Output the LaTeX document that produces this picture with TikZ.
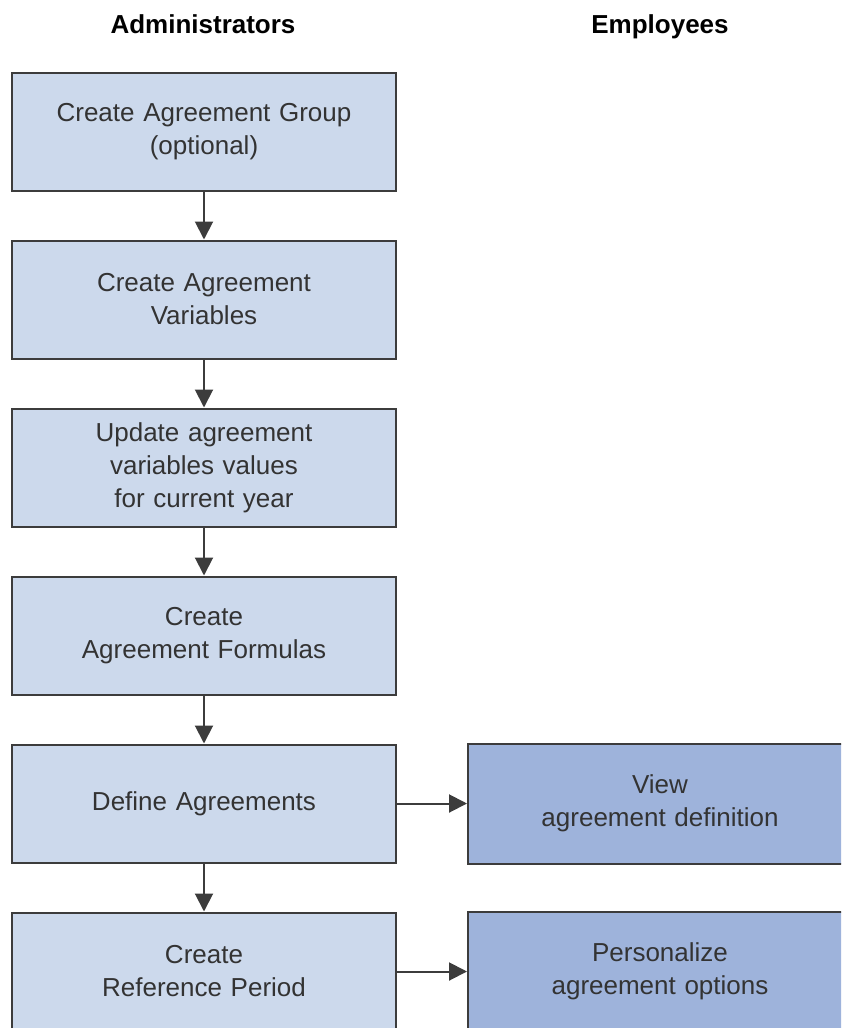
\documentclass[tikz,border=0pt]{standalone}
\usepackage{fontspec}
\setmainfont{Liberation Sans}
\usetikzlibrary{positioning,arrows.meta}

\definecolor{adminfill}{HTML}{CCD9EC}
\definecolor{emplfill}{HTML}{9EB3DB}
\definecolor{boxline}{HTML}{3C3C3C}
\definecolor{boxtext}{HTML}{333333}

\tikzset{
  adminbox/.style={draw=boxline, line width=1pt, fill=adminfill, text=boxtext,
    minimum width=192pt, minimum height=59pt, text width=180pt, align=center,
    inner sep=0pt, font=\fontsize{13}{16.5}\selectfont},
  emplbox/.style={adminbox, fill=emplfill, minimum height=60pt},
  flow/.style={draw=boxline, line width=1pt, -{Triangle[length=9pt,width=9pt]}},
  lanehead/.style={anchor=base, font=\bfseries\fontsize{13}{16}\selectfont, text=black}
}

\begin{document}
\begin{tikzpicture}[x=0.5pt, y=-0.5pt, node distance=24pt and 35pt]
\useasboundingbox (0,0) rectangle (841,1028);
\clip (0,0) rectangle (841,1028); %boxes run past the page edge

%lane headings
\node[lanehead] (admins) at (203,33) {Administrators};
\node[lanehead] (employees) at (660,33) {Employees};

%administrator steps
\node[adminbox] (group) at (204,131.5) {Create Agreement Group\\(optional)};
\node[adminbox, below=of group] (variables) {Create Agreement\\Variables};
\node[adminbox, below=of variables] (values) {Update agreement\\variables values\\for current year};
\node[adminbox, below=of values] (formulas) {Create\\Agreement Formulas};
\node[adminbox, below=of formulas] (define) {Define Agreements};
\node[adminbox, below=of define] (period) {Create\\Reference Period};

%employee steps
\node[emplbox, right=of define] (view) {View\\agreement definition};
\node[emplbox, right=of period] (personal) {Personalize\\agreement options};

\draw[flow] (group) -- (variables);
\draw[flow] (variables) -- (values);
\draw[flow] (values) -- (formulas);
\draw[flow] (formulas) -- (define);
\draw[flow] (define) -- (period);
\draw[flow] (define) -- (view);
\draw[flow] (period) -- (personal);
\end{tikzpicture}
\end{document}
